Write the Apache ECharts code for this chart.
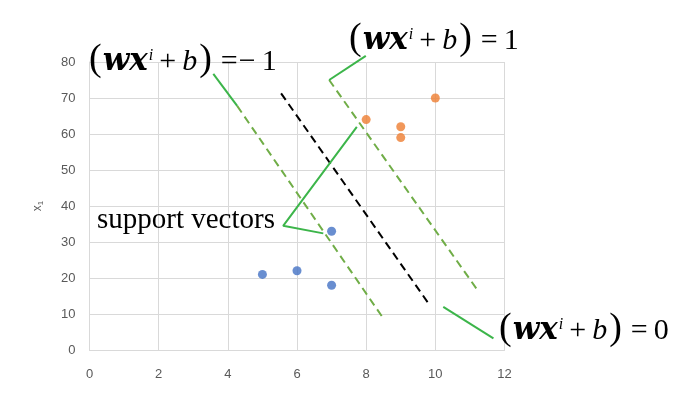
<!DOCTYPE html>
<html>
<head>
<meta charset="utf-8">
<script src="https://cdn.jsdelivr.net/npm/echarts@6/dist/echarts.min.js"></script>
<style>
  html, body { margin: 0; padding: 0; background: #fff; }
  #main { width: 682px; height: 398px; }
</style>
</head>
<body>
<div id="main"></div>
<script>
// data points, two classes
const classA = [[5, 21], [6, 22], [7, 18], [7, 33]];
const classB = [[8, 64], [9, 62], [9, 59], [10, 70]];

// separating line and margins (wx + b = 0, -1, 1)
const boundary = [[5.54, 71.3], [9.82, 12.7]];
const marginNeg = [[4.27, 67.8], [8.53, 8.3]];
const marginPos = [[6.93, 75.0], [11.20, 16.9]];

// callout pointer lines
const negPointer = [[3.58, 76.7], [4.27, 67.8]];
const posPointer = [[7.99, 81.7], [6.93, 75.0]];
const svPointer = [[7.73, 62.0], [5.60, 34.5], [6.76, 32.4]];
const zeroPointer = [[10.23, 12.0], [11.68, 3.25]];

const xTicks = [0, 2, 4, 6, 8, 10, 12];
const yTicks = [0, 10, 20, 30, 40, 50, 60, 70, 80];

const serif = '"Liberation Serif", serif';
const wide = '"DejaVu Serif", serif';
const eqRich = {
  p: { fontSize: 38, fontFamily: serif, fill: '#000', padding: [0, 1, 4, 0] },
  v: { fontSize: 31, fontFamily: wide, fontStyle: 'italic', fontWeight: 'bold', fill: '#000' },
  s: { fontSize: 16, fontFamily: serif, fontStyle: 'italic', fill: '#000', padding: [0, 0, 12, 1] },
  o: { fontSize: 30, fontFamily: serif, fill: '#000', padding: [0, 6, 0, 6] },
  b: { fontSize: 30, fontFamily: serif, fontStyle: 'italic', fill: '#000', padding: [0, 2, 0, 0] },
  e: { fontSize: 30, fontFamily: serif, fill: '#000', padding: [0, 0, 0, 8] },
  m: { fontSize: 30, fontFamily: serif, fill: '#000', padding: [0, 0, 0, 1] },
  r: { fontSize: 30, fontFamily: serif, fill: '#000', padding: [0, 0, 0, 6] }
};
function equation(rhs) {
  return '{p|(}{v|wx}{s|i}{o|+}{b|b}{p|)}' + rhs;
}

const myChart = echarts.init(document.getElementById('main'));

function lineSeries(data, color, dashed) {
  return {
    type: 'line',
    data: data,
    symbol: 'none',
    clip: false,
    silent: true,
    lineStyle: {
      color: color,
      width: 2,
      type: dashed ? [8, 5] : 'solid'
    },
    z: 1
  };
}

myChart.setOption({
  animation: false,
  grid: { left: 89.5, right: 177.5, top: 62, bottom: 48 },
  xAxis: {
    type: 'value',
    min: xTicks[0],
    max: xTicks[xTicks.length - 1],
    interval: 2,
    axisLine: { show: true, lineStyle: { color: '#d9d9d9' } },
    axisTick: { show: false },
    splitLine: { show: true, lineStyle: { color: '#d9d9d9' } },
    axisLabel: { color: '#595959', fontSize: 13, fontFamily: 'Liberation Sans', margin: 18 }
  },
  yAxis: {
    type: 'value',
    min: yTicks[0],
    max: yTicks[yTicks.length - 1],
    interval: 10,
    name: '{a|x}{s|1}',
    nameLocation: 'middle',
    nameGap: 45,
    nameTextStyle: {
      rich: {
        a: { fontSize: 12, color: '#595959', fontFamily: 'Liberation Sans' },
        s: { fontSize: 8, color: '#595959', fontFamily: 'Liberation Sans', padding: [6, 0, 0, 0] }
      }
    },
    axisLine: { show: true, lineStyle: { color: '#d9d9d9' } },
    axisTick: { show: false },
    splitLine: { show: true, lineStyle: { color: '#d9d9d9' } },
    axisLabel: { color: '#595959', fontSize: 13, fontFamily: 'Liberation Sans', margin: 14 }
  },
  series: [
    lineSeries(marginNeg, '#70ad47', true),
    lineSeries(marginPos, '#70ad47', true),
    lineSeries(boundary, '#000000', true),
    lineSeries(negPointer, '#3cb54a', false),
    lineSeries(posPointer, '#3cb54a', false),
    lineSeries(svPointer, '#3cb54a', false),
    lineSeries(zeroPointer, '#3cb54a', false),
    {
      type: 'scatter',
      data: classA,
      symbolSize: 9,
      itemStyle: { color: '#4472c4' },
      z: 3
    },
    {
      type: 'scatter',
      data: classB,
      symbolSize: 9,
      itemStyle: { color: '#ed7d31' },
      z: 3
    }
  ],
  graphic: [
    {
      type: 'text', x: 89, y: 62, z: 10,
      style: { text: equation('{e|=}{m|\u2212}{r|1}'), rich: eqRich, align: 'left', verticalAlign: 'middle' }
    },
    {
      type: 'text', x: 349, y: 41, z: 10,
      style: { text: equation('{e|=}{r|1}'), rich: eqRich, align: 'left', verticalAlign: 'middle' }
    },
    {
      type: 'text', x: 499, y: 331, z: 10,
      style: { text: equation('{e|=}{r|0}'), rich: eqRich, align: 'left', verticalAlign: 'middle' }
    },
    {
      type: 'text', x: 97, y: 220, z: 10,
      style: { text: 'support vectors', fontSize: 29, fontFamily: serif, fill: '#000', align: 'left', verticalAlign: 'middle' }
    }
  ]
});
</script>
</body>
</html>
